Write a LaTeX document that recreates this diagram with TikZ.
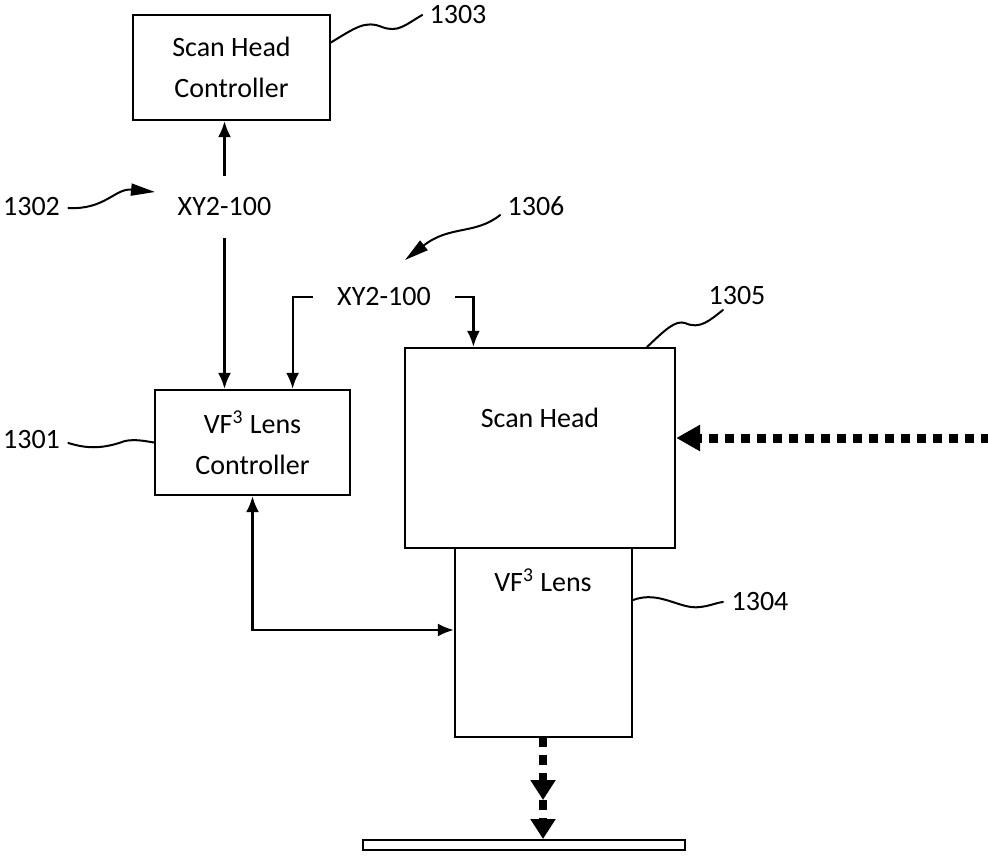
\documentclass[tikz,border=0pt]{standalone}
\usepackage{fontspec}
\setmainfont{Carlito}
\usetikzlibrary{arrows.meta}
\begin{document}
\begin{tikzpicture}[x=0.5pt,y=-0.5pt,
  box/.style={draw,line width=1.2pt,inner sep=0pt,align=center,font=\fontsize{14}{20.5}\selectfont},
  txt/.style={inner sep=0pt,font=\fontsize{14}{20.5}\selectfont},
  xy/.style={txt,minimum height=31pt},
  conn/.style={line width=1.1pt,-{Latex[length=8pt,width=6.5pt]}},
  biconn/.style={line width=1.1pt,{Latex[length=8pt,width=6.5pt]}-{Latex[length=8pt,width=6.5pt]}},
  leader/.style={line width=1pt,line cap=round},
  leadarrow/.style={leader,-{Triangle[length=12pt,width=6pt]}},
  beamh/.style={line width=4.5pt,dash pattern=on 4.5pt off 3.5pt,-{Triangle[length=12pt,width=12.5pt]}},
  beamv/.style={line width=4pt,dash pattern=on 5pt off 4pt,-{Triangle[length=10pt,width=12pt]}}]
\useasboundingbox (0,0) rectangle (988,855);
% boxes
\node[box,minimum width=98.5pt,minimum height=52.5pt] (shc) at (231.5,67.5) {Scan Head\\Controller};
\node[box,minimum width=97.5pt,minimum height=52.5pt] (vlc) at (252.5,442.5) {VF\textsuperscript{3} Lens\\Controller};
\node[box,minimum width=135pt,minimum height=100pt] (sh) at (540,448) {};
\node[txt] (shtext) at (540,418) {Scan Head};
\node[box,minimum width=88.5pt,minimum height=94.5pt] (vl) at (543.5,642.5) {};
\node[txt] (vltext) at (543,580) {VF\textsuperscript{3} Lens};
\node[draw,line width=1pt,minimum width=161pt,minimum height=5pt,inner sep=0pt] (plate) at (524,845) {};
% signal texts
\node[xy] (xya) at (224.5,207) {XY2-100};
\node[xy,minimum width=71pt] (xyb) at (384,297) {XY2-100};
% reference numerals
\node[txt] (n1303) at (458,15) {1303};
\node[txt] (n1302) at (31.5,207) {1302};
\node[txt] (n1306) at (536,206) {1306};
\node[txt] (n1305) at (737,296) {1305};
\node[txt] (n1301) at (31.5,440) {1301};
\node[txt] (n1304) at (760,602) {1304};
% connectors
\draw[conn] (xya.north) -- (xya.north |- shc.south);
\draw[conn] (xya.south) -- (xya.south |- vlc.north);
\draw[conn] (xyb.west) -- ++(-20,0) coordinate (bkl) -- (bkl |- vlc.north);
\draw[conn] (xyb.east) -- ++(18,0) coordinate (bkr) -- (bkr |- sh.north);
\draw[biconn] (vlc.south) |- ([yshift=6.25pt]vl.west);
% laser beams
\coordinate (beamin) at (990,438);
\draw[beamh] (beamin) -- ([yshift=5pt]sh.east);
\coordinate (vlout) at (543,737);
\coordinate (beammid) at (543,800);
\draw[beamv] (vlout) -- (beammid);
\draw[beamv] (beammid) -- (beammid |- plate.north);
% leaders
\draw[leader] (330,43) .. controls (355,28) and (365,20) .. (382,27) .. controls (398,33) and (405,25) .. ([xshift=-3.5pt]n1303.west);
\draw[leadarrow] (n1302.east) ++(8,1) .. controls (105,210) and (115,188) .. (155,192);
\draw[leadarrow] (n1306.west) ++(-7,9) .. controls (475,235) and (450,225) .. (405,260);
\draw[leader] (647,347) .. controls (665,330) and (675,320) .. (685,323) .. controls (700,330) and (710,320) .. (723,310);
\draw[leader] (n1301.east) ++(8,3) .. controls (85,448) and (100,450) .. (125,441) .. controls (135,439) and (145,441) .. (vlc.west);
\draw[leader] (633,600) .. controls (660,590) and (680,610) .. (700,607) .. controls (710,606) and (715,603) .. (723,602);
\end{tikzpicture}
\end{document}
